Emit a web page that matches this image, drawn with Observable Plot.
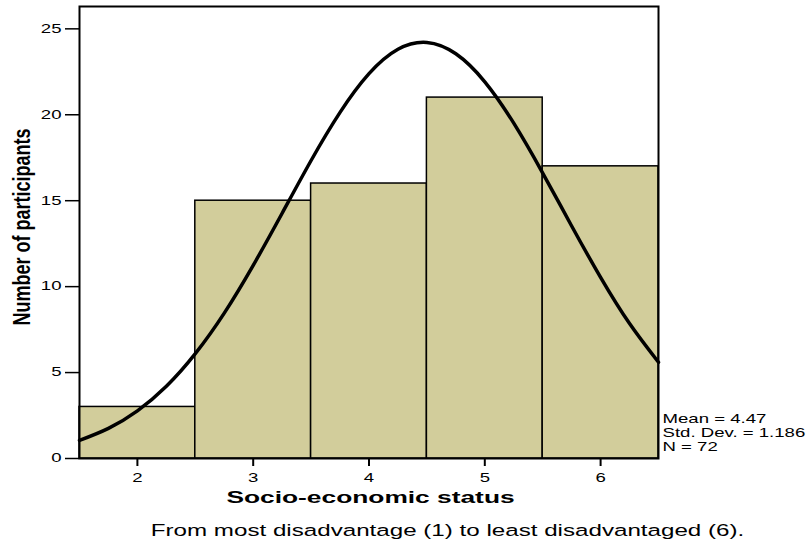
<!DOCTYPE html>
<html>
<head>
<meta charset="utf-8">
<script src="https://cdn.jsdelivr.net/npm/d3@7"></script>
<script src="https://cdn.jsdelivr.net/npm/@observablehq/plot@0.6"></script>
<style>
  html, body { margin: 0; padding: 0; background: #fff; }
  svg { display: block; }
</style>
</head>
<body>
<div id="chart"></div>
<script>
// Histogram categories (socio-economic status) and counts
const categories = [2, 3, 4, 5, 6];
const counts = [3, 15, 16, 21, 17];
// Fitted normal curve
const curveX = [1.5, 1.75, 2, 2.25, 2.5, 2.75, 3, 3.25, 3.5, 3.75, 4, 4.25, 4.5, 4.75, 5, 5.25, 5.5, 5.75, 6, 6.25, 6.5];
const curveY = [1.05, 1.75, 2.77, 4.2, 6.1, 8.46, 11.24, 14.27, 17.34, 20.14, 22.39, 23.81, 24.21, 23.55, 21.92, 19.51, 16.61, 13.53, 10.54, 7.85, 5.6];
const yTicks = [0, 5, 10, 15, 20, 25];
const xTicks = [2, 3, 4, 5, 6];
const statsText = "Mean = 4.47\nStd. Dev. = 1.186\nN = 72";
const xLabel = "Socio-economic status";
const yLabel = "Number of participants";
const captionText = "From most disadvantage (1) to least disadvantaged (6).";

const bars = categories.map((c, i) => ({x1: c - 0.5, x2: c + 0.5, y: counts[i]}));
const curve = curveX.map((x, i) => ({x, y: curveY[i]}));

const FONT = "'Liberation Sans', Arial, Helvetica, sans-serif";

const plot = Plot.plot({
  width: 810,
  height: 546,
  marginLeft: 79,
  marginRight: 152,
  marginTop: 6,
  marginBottom: 88,
  style: {fontFamily: FONT, fontSize: "12px", color: "#000", background: "#fff"},
  x: {domain: [1.5, 6.5]},
  y: {domain: [0, 26.3]},
  marks: [
    Plot.rectY(bars, {x1: "x1", x2: "x2", y: "y", fill: "#d2cd9b", stroke: "#000", strokeWidth: 1.5, inset: 0}),
    Plot.line(curve, {x: "x", y: "y", curve: "natural", stroke: "#000", strokeWidth: 3.5}),
    Plot.frame({stroke: "#000", strokeWidth: 2}),
    Plot.axisY({ticks: yTicks, tickFormat: d => String(d), tickSize: 14, tickPadding: 4, label: null, fontSize: 12, strokeWidth: 1.5}),
    Plot.axisX({ticks: xTicks, tickFormat: d => String(d), tickSize: 8, tickPadding: 7, label: null, fontSize: 12, strokeWidth: 2}),
    Plot.text([statsText], {frameAnchor: "bottom-right", textAnchor: "start", lineAnchor: "middle", dx: 4, dy: -26, fontSize: 12, lineHeight: 1.1667, fill: "#000"}),
    Plot.text([xLabel], {frameAnchor: "bottom", lineAnchor: "middle", dx: 1.5, dy: 39, fontSize: 17, fontWeight: "bold", fill: "#000"}),
    Plot.text([captionText], {frameAnchor: "bottom", lineAnchor: "middle", dx: 78.5, dy: 73, fontSize: 15.6, fill: "#000"}),
    Plot.text([yLabel], {frameAnchor: "left", rotate: -90, textAnchor: "middle", lineAnchor: "middle", dx: -57, dy: -5.5, fontSize: 18, fontWeight: "bold", fill: "#000"})
  ]
});

// The reference is horizontally stretched: widen glyphs around their anchors
const S = 1.55;
plot.querySelectorAll("text").forEach(t => {
  let tr = t.getAttribute("transform") || "";
  const xa = t.getAttribute("x");
  if (xa != null && !isNaN(+xa) && +xa !== 0) {
    t.removeAttribute("x");
    tr = `${tr} translate(${+xa},0)`;
  }
  if (tr.includes("rotate")) {
    tr = tr.replace(/rotate/, "scale(1.3,1) rotate");
  } else {
    tr = `${tr} scale(${S},1)`;
  }
  t.setAttribute("transform", tr.trim());
});

document.getElementById("chart").appendChild(plot);
</script>
</body>
</html>
